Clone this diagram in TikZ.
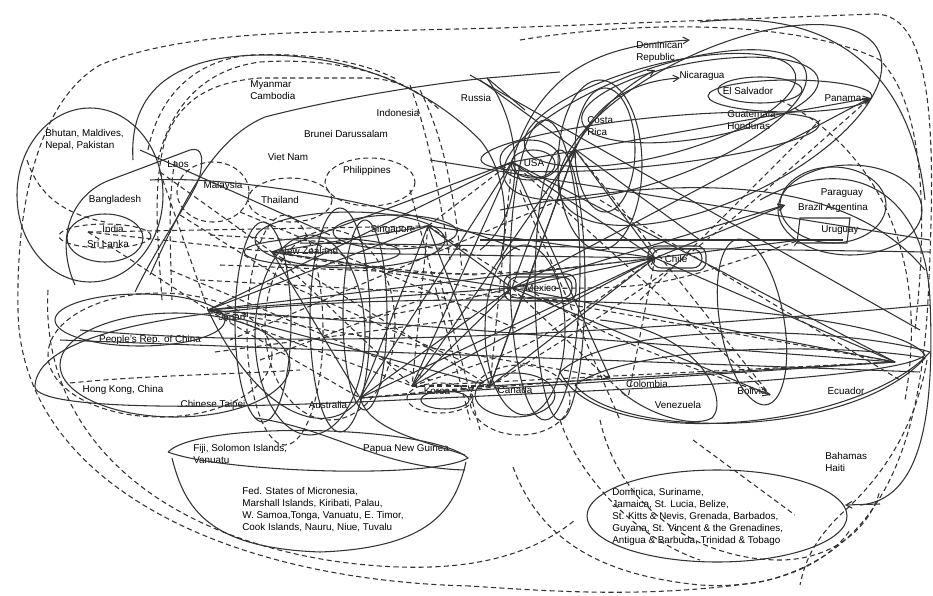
\documentclass[tikz,border=0pt]{standalone}
\usepackage{fontspec}
\setmainfont{Liberation Sans}
\usetikzlibrary{arrows.meta,calc}
\begin{document}
\begin{tikzpicture}[x=0.75pt,y=-0.75pt,
 lbl/.style={font=\fontsize{7.4}{9}\selectfont,inner sep=0.8pt,align=left,text=black},
 sl/.style={draw=black!80,line width=0.8pt},
 dl/.style={draw=black!80,line width=0.8pt,dash pattern=on 3.8pt off 2.5pt},
 ar/.style={-{Straight Barb[length=4.5pt,width=5pt]}},
]
\useasboundingbox (0,0) rectangle (933,596);
\fill[white] (0,0) rectangle (933,596);

% ---------------- labels
\node[lbl,anchor=west] (myan) at (249,90) {Myanmar\\Cambodia};
\node[lbl] (indo) at (398,113) {Indonesia};
\node[lbl] (rus) at (476,98) {Russia};
\node[lbl] (brunei) at (346,134) {Brunei Darussalam};
\node[lbl,anchor=west] (bhutan) at (44,140) {Bhutan, Maldives,\\Nepal, Pakistan};
\node[lbl] (laos) at (178,164) {Laos};
\node[lbl] (viet) at (288,157) {Viet Nam};
\node[lbl] (phil) at (367,171) {Philippines};
\node[lbl] (malay) at (223,186) {Malaysia};
\node[lbl] (thai) at (280,200) {Thailand};
\node[lbl] (bangla) at (115,200) {Bangladesh};
\node[lbl] (india) at (113,229) {India};
\node[lbl] (sri) at (108,244) {Sri Lanka};
\node[lbl] (sing) at (393,230) {Singapore};
\node[lbl] (nz) at (309,251) {New Zealand};
\node[lbl] (japan) at (232,318) {Japan};
\node[lbl] (prc) at (150,340) {People's Rep. of China};
\node[lbl] (hk) at (123,390) {Hong Kong, China};
\node[lbl] (taipei) at (213,405) {Chinese Taipei};
\node[lbl] (aus) at (328,405) {Australia};
\node[lbl] (korea) at (437,391) {Korea};
\node[lbl] (canada) at (515,390) {Canada};
\node[lbl] (colom) at (647,384) {Colombia};
\node[lbl] (venez) at (678,405) {Venezuela};
\node[lbl] (boliv) at (752,391) {Bolivia};
\node[lbl] (ecua) at (846,391) {Ecuador};
\node[lbl,anchor=west] (fiji) at (192,454) {Fiji, Solomon Islands,\\Vanuatu};
\node[lbl] (png) at (406,449) {Papua New Guinea};
\node[lbl,anchor=west] (fsm) at (241,510) {Fed. States of Micronesia,\\Marshall Islands, Kiribati, Palau,\\W. Samoa,Tonga, Vanuatu, E. Timor,\\Cook Islands, Nauru, Niue, Tuvalu};
\node[lbl,anchor=west] (bah) at (824,462) {Bahamas\\Haiti};
\node[lbl,anchor=west] (domin) at (611,517) {Dominica, Suriname,\\Jamaica, St. Lucia, Belize,\\St. Kitts \& Nevis, Grenada, Barbados,\\Guyana, St. Vincent \& the Grenadines,\\Antigua \& Barbuda, Trinidad \& Tobago};
\node[lbl,anchor=west] (domrep) at (635,52) {Dominican\\Republic};
\node[lbl] (nica) at (702,76) {Nicaragua};
\node[lbl] (elsal) at (748,91) {El Salvador};
\node[lbl] (pan) at (843,98) {Panama};
\node[lbl,anchor=west] (guat) at (726,120) {Guatemala\\Honduras};
\node[lbl,anchor=west] (costa) at (586,126) {Costa\\Rica};
\node[lbl] (usa) at (534,163) {USA};
\node[lbl] (para) at (842,193) {Paraguay};
\node[lbl] (brarg) at (833,208) {Brazil Argentina};
\node[lbl] (uru) at (840,230) {Uruguay};
\node[lbl] (chile) at (676,259) {Chile};
\node[lbl] (mex) at (541,288) {Mexico};

% ---------------- hubs
\coordinate (hJ) at (208,310);
\coordinate (hNZ) at (272,252);
\coordinate (hS) at (428,226);
\coordinate (hA) at (360,398);
\coordinate (hK) at (412,386);
\coordinate (hC) at (490,386);
\coordinate (hU) at (512,162);
\coordinate (hM) at (512,288);
\coordinate (hCh) at (655,258);
\coordinate (hE) at (895,362);
\coordinate (hPan) at (870,98);
\coordinate (hUr) at (800,240);
\coordinate (hB) at (770,395);
\coordinate (hI) at (88,232);
\coordinate (hL) at (160,172);
\coordinate (hCR) at (575,150);
\coordinate (hBr) at (785,205);
\coordinate (hV) at (628,398);
\coordinate (hCol) at (610,378);
\coordinate (hP) at (465,455);
\coordinate (hDom) at (845,505);

% ---------------- big dashed outer loops
\draw[dl] (470,586) .. controls (220,580) and (20,480) .. (18,310) .. controls (16,200) and (40,100) .. (100,65) .. controls (160,40) and (250,33) .. (330,32) -- (500,28) -- (875,14) .. controls (935,14) and (936,140) .. (928,300) .. controls (920,450) and (880,555) .. (760,582) .. controls (650,598) and (560,592) .. (470,586);
\draw[dl] (48,290) .. controls (40,430) and (150,535) .. (340,562) .. controls (440,575) and (520,565) .. (575,520);
\draw[dl] (27,160) .. controls (40,200) and (70,215) .. (105,222);
\draw[dl] (148,150) .. controls (160,90) and (200,60) .. (250,55) .. controls (320,52) and (370,65) .. (398,80);
\draw[dl] (158,160) .. controls (170,110) and (200,70) .. (260,62) .. controls (320,58) and (380,68) .. (420,95);
\draw[dl] (165,140) .. controls (180,100) and (210,82) .. (260,78) -- (370,78) .. controls (400,80) and (420,92) .. (440,110);
\draw[dl] (162,300) .. controls (158,240) and (152,190) .. (165,140);
\draw[dl] (172,300) .. controls (170,240) and (168,200) .. (175,160);
\draw[dl] (520,40) .. controls (640,20) and (800,20) .. (880,60) .. controls (920,100) and (930,200) .. (915,330);
\draw[dl] (410,85) .. controls (430,140) and (440,200) .. (450,260);
\draw[dl] (420,90) .. controls (445,140) and (455,200) .. (462,270);

% ---------------- Asia
\draw[sl] (90,195) ellipse [x radius=73, y radius=87];
\draw[sl] (135,292) .. controls (160,240) and (195,195) .. (200,175) .. controls (205,150) and (198,148) .. (190,150) -- (110,180) .. controls (70,195) and (55,240) .. (75,285);
\draw[sl] (105,238) ellipse [x radius=38, y radius=24];
\draw[dl] (105,236) ellipse [x radius=46, y radius=12];
\draw[dl] (213,192) ellipse [x radius=36, y radius=30];
\draw[dl] (290,200) ellipse [x radius=42, y radius=22];
\draw[dl] (370,182) ellipse [x radius=45, y radius=24];
\draw[sl] (150,275) .. controls (180,210) and (210,140) .. (265,117) .. controls (330,100) and (420,85) .. (487,78) -- (525,110);
\draw[sl] (487,78) -- (560,72);
\draw[sl] (133,160) .. controls (128,80) and (190,55) .. (265,55) .. controls (340,55) and (420,80) .. (480,140) .. controls (505,170) and (510,220) .. (500,260);
\draw[sl] (140,150) -- (330,235);
\draw[sl] (150,180) .. controls (250,175) and (420,210) .. (520,250);
\draw[sl] (395,232) ellipse [x radius=62, y radius=17];
\draw[sl] (322,252) ellipse [x radius=78, y radius=14];
\draw[sl] (350,240) ellipse [x radius=95, y radius=28];
\draw[sl] (300,243) -- (930,252);
\draw[sl] (487,78) .. controls (530,140) and (520,220) .. (480,250);

% China / HK / Taipei
\draw[sl] (140,320) ellipse [x radius=85, y radius=26];
\draw[sl] (175,365) ellipse [x radius=115, y radius=52];
\draw[dl] (160,355) ellipse [x radius=112, y radius=62];
\draw[dl] (70,383) .. controls (150,375) and (220,375) .. (300,370);
\draw[sl] (35,385) .. controls (40,330) and (200,300) .. (480,300) .. controls (700,300) and (900,320) .. (925,355) .. controls (900,380) and (600,390) .. (400,400) .. controls (200,410) and (30,410) .. (35,385);
\draw[sl] (60,340) -- (920,372);
\draw[sl] (80,330) .. controls (300,350) and (600,335) .. (930,305);

% Japan / Australia vertical loops
\draw[sl] (263,322) ellipse [x radius=28, y radius=100];
\draw[sl] (310,335) ellipse [x radius=55, y radius=100];
\draw[sl] (340,320) ellipse [x radius=30, y radius=112];
\draw[sl] (365,315) ellipse [x radius=22, y radius=95];
\draw[dl] (285,330) ellipse [x radius=38, y radius=115];
\draw[dl] (330,325) ellipse [x radius=65, y radius=95];

% Korea, Canada
\draw[dl] (440,398) ellipse [x radius=33, y radius=15];
\draw[sl] (445,400) ellipse [x radius=24, y radius=9];
\draw[sl] (515,395) ellipse [x radius=40, y radius=22];
\draw[dl] (520,400) ellipse [x radius=50, y radius=35];

% Pacific bowl
\draw[sl] (168,452) .. controls (200,420) and (430,425) .. (468,458) .. controls (430,480) and (220,472) .. (168,452);
\draw[sl] (172,458) .. controls (185,510) and (210,548) .. (320,552) .. controls (430,548) and (455,510) .. (466,462);
\draw[sl] (255,418) .. controls (330,428) and (380,468) .. (465,470);
\draw[sl] (hA) .. controls (370,430) and (420,440) .. (hP);
\draw[sl] (hJ) .. controls (260,420) and (330,440) .. (hA);

% ---------------- Americas
\draw[sl,rotate around={20:(655,125)}] (655,125) ellipse [x radius=160, y radius=55];
\draw[sl,rotate around={15:(660,110)}] (660,110) ellipse [x radius=140, y radius=45];
\draw[sl,rotate around={10:(700,100)}] (700,100) ellipse [x radius=120, y radius=38];
\draw[sl,rotate around={25:(720,125)}] (720,125) ellipse [x radius=175, y radius=75];
\draw[sl] (760,90) ellipse [x radius=42, y radius=13];
\draw[sl] (790,96) ellipse [x radius=82, y radius=16];
\draw[sl,rotate around={6:(650,142)}] (650,142) ellipse [x radius=170, y radius=24];
\draw[sl] (533,164) ellipse [x radius=22, y radius=14];
\draw[sl] (530,160) ellipse [x radius=30, y radius=20];
\draw[sl] (605,150) ellipse [x radius=30, y radius=62];
\draw[sl] (600,165) ellipse [x radius=42, y radius=85];
\draw[sl] (833,205) ellipse [x radius=53, y radius=38];
\draw[sl] (850,210) ellipse [x radius=72, y radius=45];
\draw[sl] (800,218) -- (850,218) -- (847,243) -- (797,243) -- cycle;
\draw[sl] (480,240) -- (843,240);
\draw[sl,rounded corners=7pt] (652,249) rectangle (702,268);
\draw[sl,rounded corners=7pt] (648,246) rectangle (706,271);
\draw[sl,rounded corners=7pt] (508,277) rectangle (572,298);
\draw[sl,rounded corners=7pt] (504,274) rectangle (576,301);
\draw[sl] (545,270) ellipse [x radius=35, y radius=150];
\draw[sl] (525,330) ellipse [x radius=40, y radius=85];
\draw[sl] (560,285) ellipse [x radius=25, y radius=135];
\draw[sl] (575,385) .. controls (620,440) and (850,440) .. (925,358) .. controls (860,345) and (640,340) .. (575,385);
\draw[sl] (560,372) .. controls (600,455) and (860,430) .. (930,352) .. controls (850,328) and (620,318) .. (560,372);
\draw[sl,rotate around={10:(752,322)}] (752,322) ellipse [x radius=32, y radius=84];
\draw[sl] (600,320) .. controls (700,330) and (730,400) .. (712,418) .. controls (690,430) and (640,410) .. (620,390);
\draw[sl] (760,200) .. controls (850,150) and (925,190) .. (930,300) .. controls (935,420) and (920,500) .. (860,505);
\draw[sl,ar] (880,504) -- (hDom);
\draw[sl] (700,22) .. controls (820,8) and (910,60) .. (925,200);
\draw[sl] (717,516) ellipse [x radius=130, y radius=46];
\draw[sl] (470,75) -- (920,330);
\draw[sl] (480,80) -- (700,240);
\draw[sl] (430,160) -- (930,240);
\draw[sl] (500,210) .. controls (700,170) and (850,180) .. (925,270);

% dashed loops bottom right
\draw[dl] (513,467) .. controls (540,540) and (600,575) .. (700,585) .. controls (780,590) and (830,560) .. (850,530);
\draw[dl] (693,440) -- (795,515);
\draw[dl] (927,360) .. controls (915,430) and (880,480) .. (840,515) .. controls (815,540) and (805,560) .. (800,585);
\draw[dl] (600,420) .. controls (620,510) and (700,560) .. (780,560) .. controls (830,560) and (870,530) .. (880,490);
\draw[dl] (780,100) .. controls (880,150) and (930,260) .. (905,400);
\draw[dl] (560,420) .. controls (580,480) and (640,540) .. (700,560);

% ---------------- connectors between hubs (solid)
\foreach \a/\b in {hJ/hU,hJ/hM,hJ/hCh,hJ/hS,hJ/hC,hNZ/hU,hNZ/hCh,hNZ/hM,hNZ/hS,hS/hM,hS/hC,hS/hCh,hA/hU,hA/hM,hA/hCh,hK/hCh,hK/hU,hK/hM,hC/hCh,hU/hCh,hM/hCh,hM/hE,hCh/hE,hC/hE,hCh/hUr,hM/hB,hNZ/hA,hS/hA,hCR/hCh,hCR/hC,hU/hE,hCol/hU,hA/hE,hJ/hE}
  \draw[sl] (\a) -- (\b);
\foreach \a/\b in {hU/hPan,hM/hBr,hC/hCR,hK/hCR,hM/hPan,hCh/hBr}
  \draw[sl,ar] (\a) -- (\b);
\draw[sl,ar] (hU) .. controls (540,70) and (600,45) .. (690,40);
\draw[sl,ar] (hCR) .. controls (600,90) and (650,80) .. (680,78);
\draw[sl,ar] (hM) .. controls (560,150) and (600,100) .. (655,70);

% ---------------- dashed connectors
\foreach \a/\b in {hJ/hK,hNZ/hK,hK/hC,hI/hS,hI/hNZ,hL/hNZ,hL/hJ,hJ/hA,hNZ/hC,hS/hK,hA/hC,hU/hC,hM/hV,hCh/hV,hU/hB,hCR/hB,hJ/hCol,hNZ/hE,hA/hCol,hK/hE,hI/hJ,hS/hU}
  \draw[dl] (\a) -- (\b);
\foreach \a/\b in {hJ/hM,hNZ/hCh,hS/hB,hC/hPan,hM/hUr,hK/hCh}
  \draw[dl,ar] (\a) .. controls ($(\a)!0.5!(\b)+(0,25)$) .. (\b);
\draw[dl] (200,280) -- (560,300);
\draw[dl] (240,212) -- (520,330);
\draw[dl] (170,270) -- (430,380);
\draw[dl] (210,235) -- (470,250);
\draw[dl] (180,215) -- (300,290);
\draw[dl] (230,340) -- (560,200);
\draw[dl] (410,190) -- (470,420);
\draw[dl] (440,280) -- (480,430);
\draw[dl] (600,200) -- (900,380);
\draw[dl] (640,300) -- (820,120);
\draw[dl] (520,190) -- (620,420);
\draw[dl] (220,265) -- (480,275);
\draw[dl] (215,352) -- (470,318);
\draw[dl] (260,360) -- (420,300);
\draw[dl] (300,290) -- (460,360);
\end{tikzpicture}
\end{document}
